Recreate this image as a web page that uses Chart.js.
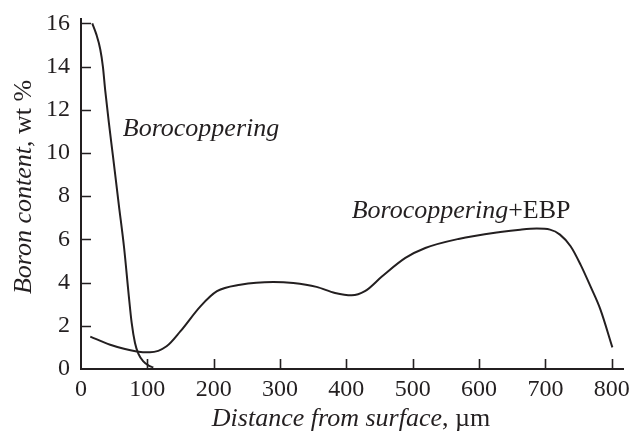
<!DOCTYPE html>
<html>
<head>
<meta charset="utf-8">
<script src="https://cdn.jsdelivr.net/npm/chart.js@4/dist/chart.umd.min.js"></script>
<style>
  html, body { margin: 0; padding: 0; background: #fff; }
  #wrap { width: 635px; height: 432px; }
</style>
</head>
<body>
<div id="wrap"><canvas id="boronChart"></canvas></div>
<script>
// distance from surface, um / boron content, wt %
var boroX = [17, 23, 29, 33, 36.5, 42, 48, 57, 65, 72, 76.4, 81.4, 86.4, 94, 101.5, 109];
var boroY = [16, 15.5, 14.8, 14.0, 12.9, 11.4, 9.9, 7.6, 5.6, 3.4, 2.13, 1.2, 0.71, 0.35, 0.17, 0.07];

var ebpX = [14, 44, 84, 104, 129, 150, 180, 205, 240, 290, 320, 355, 383, 408, 428, 454, 489, 519, 569, 632, 662, 687, 707, 722, 738, 753, 768, 783, 801];
var ebpY = [1.5, 1.12, 0.81, 0.77, 1.05, 1.75, 2.9, 3.6, 3.9, 4.03, 3.98, 3.8, 3.52, 3.41, 3.6, 4.29, 5.14, 5.6, 6.02, 6.34, 6.45, 6.5, 6.45, 6.22, 5.68, 4.83, 3.82, 2.75, 1.0];

var xTicks = [0, 100, 200, 300, 400, 500, 600, 700, 800];
var yTicks = [0, 2, 4, 6, 8, 10, 12, 14, 16];

// curve labels: [x, y, italic part, upright part]
var curveLabels = [
    [63, 10.8, 'Borocoppering', ''],
    [408, 7.0, 'Borocoppering', '+EBP']
];

var ink = '#231f20';
var serif = '"Liberation Serif", "Times New Roman", serif';
var textSize = 26;

function pts(xs, ys) {
    return xs.map(function (x, i) { return { x: x, y: ys[i] }; });
}

function mixedText(ctx, parts, x, y) {
    // parts: [[text, italic], ...], drawn left to right from x
    parts.forEach(function (p) {
        ctx.font = (p[1] ? 'italic ' : '') + textSize + 'px ' + serif;
        ctx.fillText(p[0], x, y);
        x += ctx.measureText(p[0]).width;
    });
}

function mixedWidth(ctx, parts) {
    var w = 0;
    parts.forEach(function (p) {
        ctx.font = (p[1] ? 'italic ' : '') + textSize + 'px ' + serif;
        w += ctx.measureText(p[0]).width;
    });
    return w;
}

var decorations = {
    id: 'decorations',
    afterDraw: function (chart) {
        var ctx = chart.ctx;
        var xs = chart.scales.x, ys = chart.scales.y;
        var area = chart.chartArea;
        ctx.save();
        ctx.strokeStyle = ink;
        ctx.lineWidth = 1.6;
        ctx.beginPath();
        // inward tick marks
        xTicks.forEach(function (v) {
            if (v === 0) return;
            var px = Math.round(xs.getPixelForValue(v)) + 0.5;
            ctx.moveTo(px, area.bottom);
            ctx.lineTo(px, area.bottom - 10);
        });
        yTicks.forEach(function (v) {
            if (v === 0) return;
            var py = Math.round(ys.getPixelForValue(v)) + 0.5;
            ctx.moveTo(area.left, py);
            ctx.lineTo(area.left + 10, py);
        });
        ctx.stroke();

        ctx.fillStyle = ink;
        ctx.textBaseline = 'alphabetic';
        ctx.textAlign = 'left';
        curveLabels.forEach(function (l) {
            mixedText(ctx, [[l[2], true], [l[3], false]],
                xs.getPixelForValue(l[0]), ys.getPixelForValue(l[1]));
        });

        // x axis title
        var xt = [['Distance from surface', true], [', \u00b5m', false]];
        var w = mixedWidth(ctx, xt);
        mixedText(ctx, xt, 351 - w / 2, 426);

        // y axis title, rotated
        var yt = [['Boron content', true], [', wt %', false]];
        var h = mixedWidth(ctx, yt);
        ctx.translate(31, 187);
        ctx.rotate(-Math.PI / 2);
        mixedText(ctx, yt, -h / 2, 0);
        ctx.restore();
    }
};

var ctx = document.getElementById('boronChart').getContext('2d');
var myChart = new Chart(ctx, {
    type: 'line',
    data: {
        datasets: [{
            label: 'Borocoppering',
            data: pts(boroX, boroY),
            borderColor: ink,
            borderWidth: 2,
            pointRadius: 0,
            cubicInterpolationMode: 'monotone'
        }, {
            label: 'Borocoppering+EBP',
            data: pts(ebpX, ebpY),
            borderColor: ink,
            borderWidth: 2,
            pointRadius: 0,
            cubicInterpolationMode: 'monotone'
        }]
    },
    options: {
        responsive: true,
        maintainAspectRatio: false,
        animation: false,
        layout: { padding: { top: 19, right: 12, left: 0, bottom: 0 } },
        scales: {
            x: {
                type: 'linear',
                min: 0,
                max: 817,
                afterBuildTicks: function (s) {
                    s.ticks = xTicks.map(function (v) { return { value: v }; });
                },
                afterFit: function (s) {
                    s.height = 63;
                    s.paddingLeft = 0;
                    s.paddingRight = 0;
                },
                grid: { display: false, drawTicks: false },
                border: { display: true, color: ink, width: 2 },
                ticks: { color: ink, font: { family: serif, size: 24 }, padding: 6, maxRotation: 0 }
            },
            y: {
                min: 0,
                max: 16.2,
                afterBuildTicks: function (s) {
                    s.ticks = yTicks.map(function (v) { return { value: v }; });
                },
                afterFit: function (s) {
                    s.width = 81;
                    s.paddingTop = 0;
                    s.paddingBottom = 0;
                },
                grid: { display: false, drawTicks: false },
                border: { display: true, color: ink, width: 2 },
                ticks: { color: ink, font: { family: serif, size: 24 }, padding: 11 }
            }
        },
        plugins: {
            legend: { display: false },
            tooltip: { enabled: false }
        }
    },
    plugins: [decorations]
});
</script>
</body>
</html>
